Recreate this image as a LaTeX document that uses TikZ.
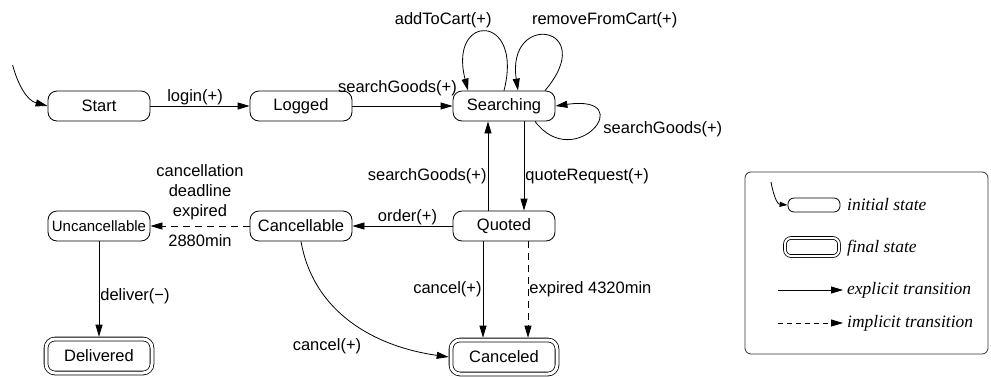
\documentclass[tikz,border=0pt]{standalone}
\usepackage{fontspec}
\setmainfont{Liberation Sans}
\newfontfamily\legendfont{Liberation Serif}
\usetikzlibrary{arrows.meta,positioning}
\tikzstyle{state} = [rectangle, rounded corners=9pt,
minimum width=102pt,
minimum height=30pt,
text centered,
draw=black, line width=0.8pt,
font=\fontsize{16.5}{19}\selectfont]
\tikzstyle{final} = [state, double, double distance=3pt,
minimum width=106pt, minimum height=34pt, outer sep=2.3pt]
\tikzstyle{lbl} = [font=\fontsize{16.5}{20}\selectfont, inner sep=1pt]
\tikzstyle{arrow} = [line width=0.8pt,-{Triangle[length=12pt,width=7pt]}]
\tikzstyle{implicit} = [arrow, dash pattern=on 7pt off 5pt]
\tikzstyle{minibox} = [rectangle, rounded corners=6pt, draw=black, line width=0.8pt,
minimum width=52pt, minimum height=14pt]
\tikzstyle{legtext} = [anchor=west, font=\legendfont\itshape\fontsize{17.5}{20}\selectfont, inner sep=1pt]

\begin{document}
\begin{tikzpicture}[x=1pt, y=1pt, node distance=202pt]
        \useasboundingbox (0,0) rectangle (991,-376);
        \node (start) [state] at (99,-106) {Start};
        \node (logged) [state, right of=start] {Logged};
        \node (searching) [state, right of=logged, xshift=1pt] {Searching};
        \node (quoted) [state, below of=searching, yshift=82pt] {Quoted};
        \node (cancellable) [state, left of=quoted, xshift=-1pt] {Cancellable};
        \node (uncancellable) [state, left of=cancellable, font=\fontsize{15}{18}\selectfont, inner xsep=1pt] {Uncancellable};
        \node (delivered) [final, below of=uncancellable, yshift=72pt] {Delivered};
        \node (canceled) [final, below of=quoted, yshift=71pt] {Canceled};
        \coordinate (init) at ([shift={(-35,41)}]start.west);
        \draw [arrow] (init) to[out=-75,in=165] (start.west);
        \draw [arrow] (start) -- node[lbl, above, pos=0.45] {login(+)} (logged);
        \draw [arrow] (logged) -- node[lbl, above, pos=0.45, yshift=9pt] {searchGoods(+)} (searching);
        % loops on Searching
        \draw [arrow] ([xshift=0pt]searching.north) .. controls +(20,78) and +(-20,78) .. node[lbl, anchor=south east, xshift=7pt, yshift=3pt] {addToCart(+)} ([xshift=-36pt]searching.north);
        \draw [arrow] ([xshift=41pt]searching.north) .. controls +(55,65) and +(-12,80) .. node[lbl, anchor=south west, xshift=-17pt, yshift=7pt] {removeFromCart(+)} ([xshift=14pt]searching.north);
        \draw [arrow] ([xshift=31pt]searching.south) .. controls +(40,-53) and +(85,12) .. node[lbl, right, xshift=10pt] {searchGoods(+)} (searching.east);
        \draw [arrow] ([xshift=-16pt]quoted.north) -- node[lbl, left, pos=0.38] {searchGoods(+)} ([xshift=-16pt]searching.south);
        \draw [arrow] ([xshift=20pt]searching.south) -- node[lbl, right, pos=0.62] {quoteRequest(+)} ([xshift=20pt]quoted.north);
        \draw [arrow] (quoted) -- node[lbl, above, pos=0.45] {order(+)} (cancellable);
        \draw [implicit] (cancellable) -- node[lbl, above, align=center, yshift=5pt] {cancellation\\deadline\\expired} node[lbl, below, yshift=-7pt] {2880min} (uncancellable);
        \draw [arrow] (uncancellable) -- node[lbl, right, pos=0.57] {deliver(−)} (delivered);
        \draw [arrow] ([xshift=-21pt]quoted.south) -- node[lbl, left] {cancel(+)} ([xshift=-21pt]canceled.north);
        \draw [implicit] ([xshift=24pt]quoted.south) -- node[lbl, right] {expired 4320min} ([xshift=24pt]canceled.north);
        \draw [arrow] (cancellable.south) to[out=-80,in=172] node[lbl, below left, pos=0.62, xshift=-10pt, yshift=-3pt] {cancel(+)} (canceled.west);
        % legend
        \node (legend) [draw=black!80, line width=0.8pt, rounded corners=6pt, minimum width=243pt, minimum height=182pt] at (866.5,-263) {};
        \node (linit) [minibox] at (814,-205) {};
        \coordinate (linitfrom) at (771,-182);
        \draw [arrow, -{Triangle[length=8pt,width=5pt]}] (linitfrom) to[out=-80,in=175] (linit.west);
        \node (tinit) [legtext] at (846,-205) {initial state};
        \node (lfinal) [minibox, double, double distance=2pt, minimum width=54pt, minimum height=18pt] at (812,-247) {};
        \node (tfinal) [legtext] at (846,-248) {final state};
        \coordinate (ea) at (778,-290);
        \coordinate (eb) at (843,-290);
        \draw [arrow] (ea) -- (eb);
        \node (texpl) [legtext] at (846,-290) {explicit transition};
        \coordinate (ia) at (778,-323);
        \coordinate (ib) at (843,-323);
        \draw [implicit, dash pattern=on 5pt off 4pt] (ia) -- (ib);
        \node (timpl) [legtext] at (846,-323) {implicit transition};
    \end{tikzpicture}
\end{document}
